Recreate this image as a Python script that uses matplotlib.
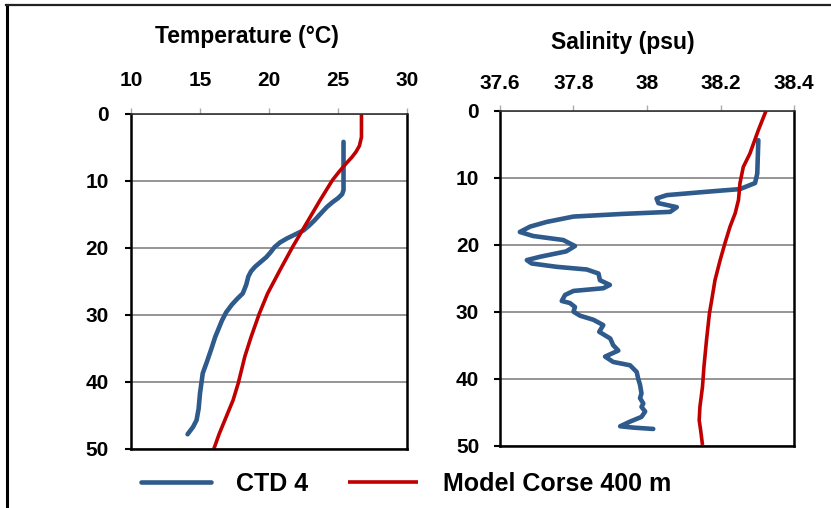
import matplotlib
matplotlib.use("Agg")
import matplotlib.pyplot as plt
from matplotlib.lines import Line2D

plt.rcParams['font.family'] = ['Liberation Sans', 'DejaVu Sans']
plt.rcParams['font.weight'] = 'bold'

# ---- data ----
temp_ticks = [10, 15, 20, 25, 30]
sal_ticks = [37.6, 37.8, 38.0, 38.2, 38.4]
sal_tick_labels = ["37.6", "37.8", "38", "38.2", "38.4"]
depth_ticks = [0, 10, 20, 30, 40, 50]

ctd_temp_depth = [4.2, 11.4, 12.0, 12.6, 13.2, 13.9, 15.0, 15.9, 16.7, 17.4, 18.0,
                  18.6, 19.2, 19.9, 20.7, 21.4, 22.1, 22.8, 23.5, 24.3, 25.5,
                  26.8, 27.6, 28.5, 29.6, 30.8, 33.3, 35.2, 37.0, 38.7, 41.7,
                  44.0, 45.7, 46.7, 47.8]
ctd_temp = [25.4, 25.4, 25.3, 25.0, 24.6, 24.2, 23.7, 23.3, 22.9, 22.5, 21.9,
            21.3, 20.8, 20.4, 20.1, 19.8, 19.4, 19.0, 18.7, 18.5, 18.35,
            18.1, 17.7, 17.3, 16.9, 16.6, 16.1, 15.8, 15.5, 15.2, 15.0,
            14.9, 14.75, 14.5, 14.1]

model_temp_depth = [0, 3.5, 4.8, 5.7, 6.5, 7.4, 8.6, 9.9, 12.9, 16.4, 19.9, 23.3,
                    26.8, 28.3, 29.8, 33.3, 36.2, 40.2, 42.7, 45.2, 47.7, 50.0]
model_temp = [26.7, 26.7, 26.55, 26.3, 26.0, 25.6, 25.1, 24.6, 23.7, 22.7, 21.7,
              20.8, 19.9, 19.6, 19.3, 18.7, 18.25, 17.77, 17.4, 16.9, 16.4, 16.0]

ctd_sal_depth = [4.4, 9.4, 10.8, 11.7, 12.1, 12.6, 13.1, 13.8, 14.4, 15.1, 15.4,
                 15.8, 16.6, 17.3, 18.1, 18.7, 19.3, 20.2, 21.0, 21.8, 22.3,
                 22.8, 23.3, 23.7, 24.3, 25.3, 26.0, 26.5, 26.9, 27.5, 28.4,
                 28.7, 29.3, 30.0, 30.6, 31.2, 32.0, 33.0, 34.0, 35.0, 35.8,
                 36.7, 37.5, 38.0, 39.0, 40.0, 40.9, 42.2, 42.9, 43.7, 44.2,
                 44.9, 45.7, 46.4, 47.1, 47.3, 47.5]
ctd_sal = [38.303, 38.300, 38.294, 38.253, 38.162, 38.054, 38.026, 38.031, 38.081,
           38.063, 37.936, 37.800, 37.727, 37.682, 37.654, 37.690, 37.772, 37.804,
           37.780, 37.709, 37.673, 37.686, 37.754, 37.836, 37.868, 37.872, 37.899,
           37.881, 37.800, 37.777, 37.768, 37.790, 37.804, 37.800, 37.818, 37.854,
           37.881, 37.870, 37.900, 37.908, 37.922, 37.886, 37.908, 37.954, 37.972,
           37.976, 37.981, 37.985, 37.981, 37.990, 37.985, 37.995, 37.985, 37.954,
           37.927, 37.963, 38.017]

model_sal_depth = [0, 2.9, 6.4, 8.4, 10.8, 13.3, 15.3, 17.3, 19.8, 22.3, 25.3,
                   28.3, 30.2, 34.2, 38.2, 41.2, 44.2, 46.2, 47.7, 49.9]
model_sal = [38.324, 38.303, 38.280, 38.262, 38.253, 38.249, 38.240, 38.226, 38.212,
             38.199, 38.185, 38.176, 38.170, 38.162, 38.155, 38.151, 38.144, 38.142,
             38.146, 38.151]

BLUE = '#2E5A8C'
RED = '#C00000'

fig = plt.figure(figsize=(8.31, 5.08), dpi=100)
W, H = 831, 508
ax1 = fig.add_axes([131 / W, 1 - 449 / H, (407 - 131) / W, (449 - 113.7) / H])
ax2 = fig.add_axes([500 / W, 1 - 445.7 / H, (794 - 500) / W, (445.7 - 110.7) / H])


def style(ax, xlim, xticks, xlabels, xpad, ypad):
    ax.set_xlim(*xlim)
    ax.set_ylim(50, 0)
    ax.xaxis.tick_top()
    ax.set_xticks(xticks)
    ax.set_xticklabels(xlabels)
    ax.set_yticks(depth_ticks)
    ax.tick_params(axis='x', direction='out', length=4, width=1, color='#aaaaaa',
                   labelsize=15, pad=xpad)
    ax.tick_params(axis='y', direction='out', length=4, width=1.5, color='black',
                   labelsize=15, pad=ypad)
    for lab in ax.get_xticklabels() + ax.get_yticklabels():
        lab.set_fontweight('bold')
    ax.grid(axis='y', color='#8c8c8c', linewidth=1.3)
    ax.set_axisbelow(True)
    for s in ['left', 'right', 'bottom']:
        ax.spines[s].set_linewidth(1.8)
        ax.spines[s].set_color('black')
    ax.spines['top'].set_linewidth(1.2)
    ax.spines['top'].set_color('#333333')


style(ax1, (10, 30), temp_ticks, [str(t) for t in temp_ticks], 13, 12)
style(ax2, (37.6, 38.4), sal_ticks, sal_tick_labels, 9, 11)

l_ctd, = ax1.plot(ctd_temp, ctd_temp_depth, color=BLUE, lw=3.3,
                  solid_capstyle='round', solid_joinstyle='round')
l_mod, = ax1.plot(model_temp, model_temp_depth, color=RED, lw=2.6,
                  solid_capstyle='butt', solid_joinstyle='round')
ax2.plot(ctd_sal, ctd_sal_depth, color=BLUE, lw=3.3,
         solid_capstyle='round', solid_joinstyle='round')
ax2.plot(model_sal, model_sal_depth, color=RED, lw=2.6,
         solid_capstyle='butt', solid_joinstyle='round')

fig.text(247 / W, 1 - 37 / H, "Temperature (°C)", ha='center', va='center',
         fontsize=16.5, fontweight='bold')
fig.text(623 / W, 1 - 42 / H, "Salinity (psu)", ha='center', va='center',
         fontsize=16.5, fontweight='bold')

fig.legend([l_ctd, l_mod], ["CTD 4", "Model Corse 400 m"], loc='center',
           bbox_to_anchor=(406 / W, 1 - 484 / H), ncol=2, frameon=False,
           prop={'size': 18, 'weight': 'bold'}, handlelength=2.8,
           handletextpad=1.0, columnspacing=1.6)

# figure frame lines (left and top)
fig.add_artist(Line2D([7 / W, 7 / W], [0, 1 - 5 / H], transform=fig.transFigure,
                      color='black', lw=2.2))
fig.add_artist(Line2D([6 / W, 1], [1 - 5 / H, 1 - 5 / H], transform=fig.transFigure,
                      color='#222222', lw=1.6))

fig.savefig("out.png", dpi=100)
